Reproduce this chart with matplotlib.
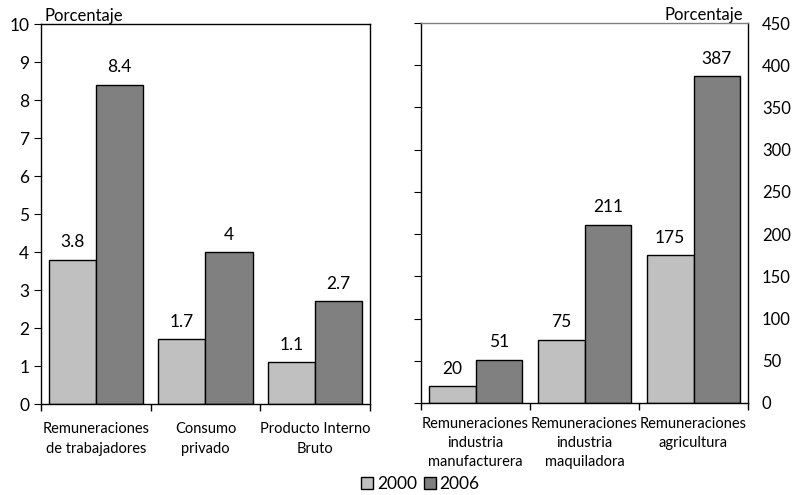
import matplotlib.pyplot as plt
import numpy as np
from matplotlib.patches import Patch

plt.rcParams['font.family'] = ['Lato', 'DejaVu Sans']

# left panel: macro variables (percent)
cats_left = ["Remuneraciones\nde trabajadores", "Consumo\nprivado", "Producto Interno\nBruto"]
left_2000 = [3.8, 1.7, 1.1]
left_2006 = [8.4, 4, 2.7]

# right panel: wages by sector (percent)
cats_right = ["Remuneraciones\nindustria\nmanufacturera", "Remuneraciones\nindustria\nmaquiladora",
              "Remuneraciones\nagricultura"]
right_2000 = [20, 75, 175]
right_2006 = [51, 211, 387]

light = "#c0c0c0"
dark = "#808080"
w = 0.43

fig = plt.figure(figsize=(7.96, 4.95), dpi=100)
ax1 = fig.add_axes([0.0515, 0.1838, 0.4133, 0.7677])
ax2 = fig.add_axes([0.5289, 0.1859, 0.4108, 0.7676])


def draw(ax, v0, v1, ymax, step, fmt):
    x = np.arange(len(v0))
    ax.bar(x - w / 2, v0, w, color=light, edgecolor="black", linewidth=1)
    ax.bar(x + w / 2, v1, w, color=dark, edgecolor="black", linewidth=1)
    off = ymax * 0.025
    for i in range(len(v0)):
        ax.text(x[i] - w / 2, v0[i] + off, fmt(v0[i]), ha="center", va="bottom", fontsize=12.5)
        ax.text(x[i] + w / 2, v1[i] + off, fmt(v1[i]), ha="center", va="bottom", fontsize=12.5)
    ax.set_xlim(-0.5, len(v0) - 0.5)
    ax.set_ylim(0, ymax)
    ax.set_yticks(np.arange(0, ymax + step / 2, step))
    ax.set_xticks(np.arange(len(v0) + 1) - 0.5, minor=False)
    ax.set_xticklabels([])
    ax.set_xticks(x, minor=True)
    ax.tick_params(axis="x", which="major", direction="out", length=5, width=1)
    ax.tick_params(axis="x", which="minor", length=0, pad=13, labelsize=10.5)
    for s in ax.spines.values():
        s.set_linewidth(1)


draw(ax1, left_2000, left_2006, 10, 1, lambda v: f"{v:g}")
ax1.set_xticklabels(cats_left, minor=True, linespacing=1.5)
ax1.tick_params(axis="y", direction="out", length=5, labelsize=12.5)
ax1.text(0.012, 1.0, "Porcentaje", transform=ax1.transAxes, ha="left", va="bottom", fontsize=12)

draw(ax2, right_2000, right_2006, 450, 50, lambda v: f"{v:g}")
ax2.set_xticklabels(cats_right, minor=True, fontsize=10.5, linespacing=1.45)
ax2.tick_params(axis="x", which="minor", pad=10)
ax2.tick_params(axis="y", direction="out", length=5, left=True, labelleft=False,
                right=False, labelright=True, labelsize=12, pad=5)
ax2.spines["top"].set_color("#808080")
ax2.text(0.985, 1.0, "Porcentaje", transform=ax2.transAxes, ha="right", va="bottom", fontsize=12)

handles = [Patch(facecolor=light, edgecolor="black", label="2000"),
           Patch(facecolor=dark, edgecolor="black", label="2006")]
fig.legend(handles=handles, loc="center", bbox_to_anchor=(0.528, 0.022), ncol=2, frameon=False,
           fontsize=12.5, handlelength=0.7, handleheight=0.7, handletextpad=0.2, columnspacing=0.4)

fig.savefig("out.png", dpi=100)
